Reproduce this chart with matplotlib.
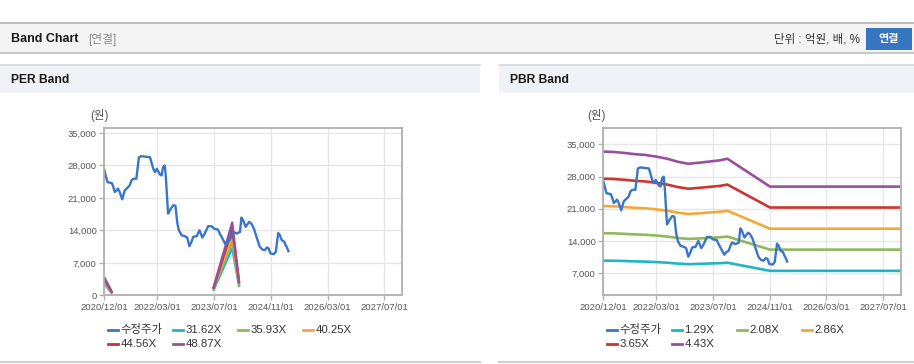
import matplotlib
matplotlib.use('Agg')
import matplotlib.pyplot as plt
import matplotlib.dates as mdates
from matplotlib.patches import Rectangle
from matplotlib.lines import Line2D
from matplotlib.ticker import FuncFormatter
import numpy as np
import pandas as pd

plt.rcParams['font.family'] = ['Liberation Sans', 'Noto Sans CJK KR', 'DejaVu Sans']

W, H = 914, 364

# ---------------- data ----------------
price_dates = [
    '2020-12-01', '2020-12-13', '2020-12-28', '2021-02-03', '2021-02-15', '2021-03-01',
    '2021-03-16', '2021-03-28', '2021-04-12', '2021-05-04', '2021-05-25', '2021-06-18',
    '2021-07-07', '2021-07-22', '2021-08-06', '2021-09-02', '2021-09-24', '2021-10-15',
    '2021-11-15', '2021-12-28', '2022-01-25', '2022-02-09', '2022-02-24', '2022-03-08',
    '2022-03-23', '2022-04-07', '2022-04-19', '2022-05-04', '2022-05-13', '2022-05-25',
    '2022-06-01', '2022-06-25', '2022-07-16', '2022-08-03', '2022-08-18', '2022-09-01',
    '2022-09-25', '2022-10-22', '2022-11-12', '2022-12-01', '2022-12-19', '2023-01-03',
    '2023-02-01', '2023-02-25', '2023-03-22', '2023-04-12', '2023-05-10', '2023-06-10',
    '2023-06-28', '2023-07-22', '2023-08-03', '2023-08-18', '2023-09-18', '2023-10-06',
    '2023-10-21', '2023-11-12', '2023-12-03', '2023-12-12', '2024-01-09', '2024-02-08',
    '2024-02-20', '2024-03-06', '2024-03-27', '2024-04-27', '2024-05-15', '2024-06-06',
    '2024-06-24', '2024-07-12', '2024-07-27', '2024-08-17', '2024-09-08', '2024-09-26',
    '2024-10-11', '2024-10-26', '2024-11-23', '2024-12-11', '2025-01-01', '2025-01-15',
    '2025-02-01', '2025-02-22', '2025-03-05', '2025-03-14', '2025-03-29']
price_values = [
    27050, 25840, 24400, 24190, 23475, 22260,
    22600, 23000, 22260, 20680, 22600, 23190,
    23690, 24760, 25120, 25120, 29770, 29990,
    29900, 29770, 27270, 26550, 27270, 26770,
    26050, 25840, 27630, 27980, 25480, 20470,
    17600, 18680, 19400, 19320, 15820, 14030,
    12950, 12740, 12450, 10590, 11520, 12600,
    12740, 14030, 12450, 13310, 14890, 14890,
    14390, 14240, 14170, 13310, 11880, 11020,
    11520, 11880, 13310, 13670, 13310, 13670,
    16750, 16170, 14750, 15820, 15460, 14390,
    12950, 11520, 10450, 9880, 9730, 10310,
    10090, 9020, 8870, 9380, 13450, 12950,
    11880, 11520, 10810, 10450, 9520]

# EPS (won) used for PER band; NaN = no band
eps_dates = ['2020-12-01', '2021-02-07', '2021-02-08', '2023-06-24', '2023-12-03', '2024-02-01']
eps_values = [79, 11.5, np.nan, 31, 321, 57]
per_multiples = [31.62, 35.93, 40.25, 44.56, 48.87]
per_labels = ['31.62X', '35.93X', '40.25X', '44.56X', '48.87X']

# BPS (won) used for PBR band
bps_dates = ['2020-12-01', '2021-03-01', '2021-06-01', '2021-09-01', '2021-12-01',
             '2022-03-01', '2022-06-01', '2022-09-01', '2022-12-01', '2023-03-01',
             '2023-06-01', '2023-09-01', '2023-11-01', '2024-11-01', '2027-12-01']
bps_values = [7550, 7530, 7480, 7420, 7380, 7300, 7200, 7050, 6950, 7000,
              7060, 7120, 7200, 5830, 5830]
pbr_multiples = [1.29, 2.08, 2.86, 3.65, 4.43]
pbr_labels = ['1.29X', '2.08X', '2.86X', '3.65X', '4.43X']

xtick_labels = ['2020/12/01', '2022/03/01', '2023/07/01', '2024/11/01', '2026/03/01', '2027/07/01']
per_yticks = [0, 7000, 14000, 21000, 28000, 35000]
pbr_yticks = [7000, 14000, 21000, 28000, 35000]

price_label = '수정주가'
price_color = '#3a76c6'
band_colors = ['#1fb5c5', '#8fb85a', '#f4a83a', '#cc3430', '#97509e']

# ---------------- figure ----------------
fig = plt.figure(figsize=(W / 100, H / 100), dpi=100)
fig.patch.set_facecolor('white')


def fx(x):
    return x / W


def fy(y):
    return 1 - y / H


def rect(x0, y0, x1, y1, color, z=-5, **kw):
    r = Rectangle((fx(x0), fy(y1)), (x1 - x0) / W, (y1 - y0) / H,
                  transform=fig.transFigure, facecolor=color, edgecolor='none',
                  zorder=z, **kw)
    fig.add_artist(r)


def hline(x0, x1, y, color, lw=1.0, z=-4):
    fig.add_artist(Line2D([fx(x0), fx(x1)], [fy(y), fy(y)], transform=fig.transFigure,
                          color=color, lw=lw, zorder=z))


# header bar
rect(0, 22, W, 53, '#f4f4f4')
hline(0, W, 22.5, '#b4b4b4', lw=1.2)
hline(0, W, 53, '#c8c8c8', lw=1.5)
fig.text(fx(11), fy(39), 'Band Chart', fontsize=9, fontweight='bold', color='#1a1a1a',
         va='center', ha='left')
fig.text(fx(88), fy(39), '[연결]', fontsize=8.5, color='#8a8a8a', va='center', ha='left')
fig.text(fx(860), fy(39), '단위 : 억원, 배, %', fontsize=8.3, color='#333333',
         va='center', ha='right')
rect(866, 28, 912, 50, '#3675c0', z=-3)
fig.text(fx(889), fy(39), '연결', fontsize=8, fontweight='bold', color='white',
         va='center', ha='center')

# panels
for (px0, px1, title) in [(0, 480, 'PER Band'), (499, W, 'PBR Band')]:
    rect(px0, 64, px1, 93, '#eff2f7')
    hline(px0, px1, 64.5, '#d6d9de', lw=1.2)
    hline(px0, px1, 362, '#d0d0d0', lw=1.5)
    fig.text(fx(px0 + 11), fy(80), title, fontsize=8.7, fontweight='bold',
             color='#1a1a1a', va='center', ha='left')

xticks = pd.to_datetime(xtick_labels, format='%Y/%m/%d')
xmin = pd.Timestamp('2020-12-01')
xmax = pd.Timestamp('2027-12-01')

pd_price = pd.to_datetime(price_dates)
pd_eps = pd.to_datetime(eps_dates)
pd_bps = pd.to_datetime(bps_dates)


def style_axes(ax, yticks, ylim):
    ax.set_xlim(xmin, xmax)
    ax.set_ylim(*ylim)
    ax.set_xticks(xticks)
    ax.set_xticklabels(xtick_labels)
    ax.set_yticks(yticks)
    ax.yaxis.set_major_formatter(FuncFormatter(lambda v, p: f'{int(v):,}'))
    ax.grid(True, color='#e6e6e6', lw=0.9)
    ax.set_axisbelow(True)
    for s in ax.spines.values():
        s.set_color('#b0b0b0')
        s.set_linewidth(1.3)
    ax.tick_params(axis='both', colors='#b0b0b0', labelcolor='#555555',
                   labelsize=6.8, length=3.5, width=1, pad=2)
    ax.set_facecolor('white')


# PER axes
ax1 = fig.add_axes([fx(104.3), fy(295.3), 298 / W, 167 / H])
for m, c in zip(per_multiples, band_colors):
    ax1.plot(pd_eps, np.array(eps_values) * m, color=c, lw=1.7, solid_capstyle='butt')
ax1.plot(pd_price, price_values, color=price_color, lw=1.7)
style_axes(ax1, per_yticks, (0, 36000))
fig.text(fx(99), fy(116), '(원)', fontsize=8.3, color='#555555', va='center', ha='center')

# PBR axes
ax2 = fig.add_axes([fx(603.3), fy(295.3), 297.7 / W, 167 / H])
for m, c in zip(pbr_multiples, band_colors):
    ax2.plot(pd_bps, np.array(bps_values) * m, color=c, lw=1.9)
ax2.plot(pd_price, price_values, color=price_color, lw=1.7)
style_axes(ax2, pbr_yticks, (2200, 38500))
fig.text(fx(596), fy(116), '(원)', fontsize=8.3, color='#555555', va='center', ha='center')


# legends
def legend(x0, labels):
    items = [(price_label, price_color)] + list(zip(labels, band_colors))
    for i, (lab, col) in enumerate(items):
        row, colidx = divmod(i, 4)
        lx = x0 + 3.4 + colidx * 65
        ly = 330 + row * 14
        fig.add_artist(Line2D([fx(lx), fx(lx + 10.6)], [fy(ly), fy(ly)],
                              transform=fig.transFigure, color=col, lw=2.0))
        fig.text(fx(lx + 12.5), fy(ly), lab, fontsize=8.2, color='#333333',
                 va='center', ha='left')


legend(104.3, per_labels)
legend(603.3, pbr_labels)

fig.savefig('out.png', dpi=100)
